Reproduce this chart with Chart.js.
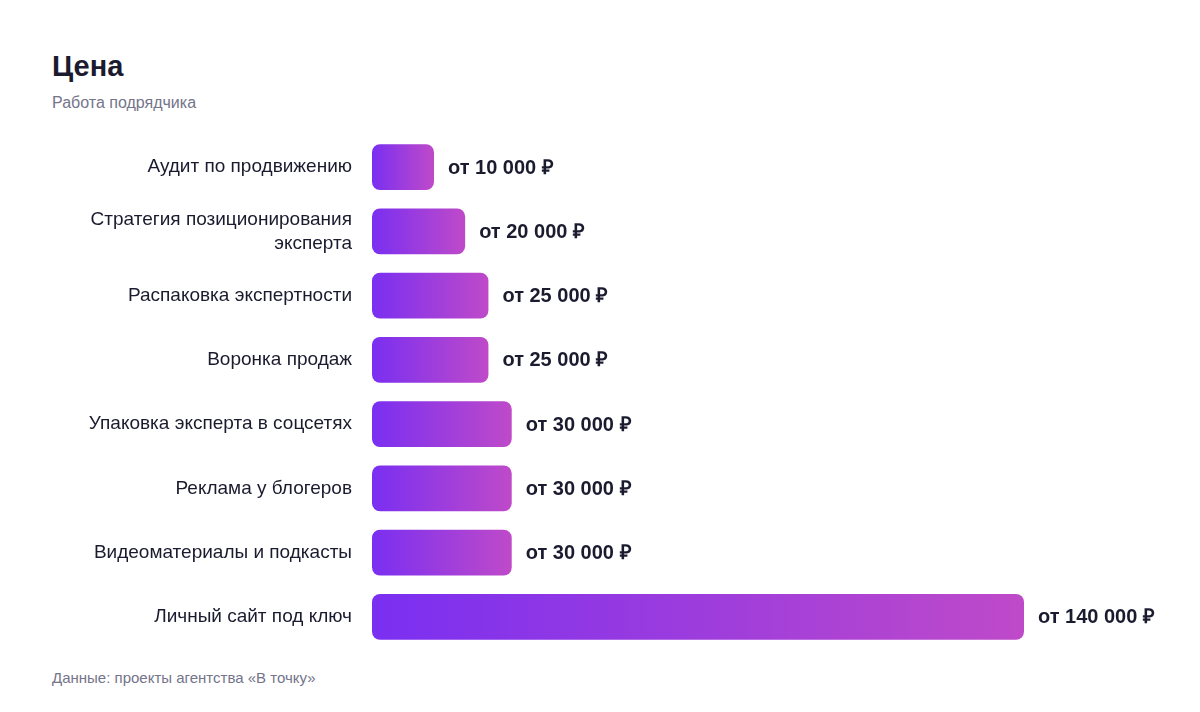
<!DOCTYPE html>
<html lang="ru">
<head>
<meta charset="utf-8">
<script src="https://cdn.jsdelivr.net/npm/chart.js@4"></script>
<style>
  body { margin: 0; background: #fff; font-family: "Liberation Sans", Arial, sans-serif; }
  #page { position: relative; width: 1200px; height: 712px; }
  .title { position: absolute; left: 52px; top: 52px; font-size: 29px; line-height: 29px; font-weight: bold; color: #1b1b2f; }
  .subtitle { position: absolute; left: 52px; top: 95px; font-size: 16px; line-height: 16px; color: #74748a; }
  .source { position: absolute; left: 52px; top: 670px; font-size: 15px; line-height: 15px; color: #74748a; }
  #wrap { position: absolute; left: 0; top: 135px; width: 1200px; height: 514px; }
</style>
</head>
<body>
<div id="page">
  <div class="title">Цена</div>
  <div class="subtitle">Работа подрядчика</div>
  <div id="wrap"><canvas id="chart"></canvas></div>
  <div class="source">Данные: проекты агентства «В точку»</div>
</div>
<script>
const categories = [
  'Аудит по продвижению',
  ['Стратегия позиционирования', 'эксперта'],
  'Распаковка экспертности',
  'Воронка продаж',
  'Упаковка эксперта в соцсетях',
  'Реклама у блогеров',
  'Видеоматериалы и подкасты',
  'Личный сайт под ключ'
];
const prices = [10000, 20000, 25000, 25000, 30000, 30000, 30000, 140000];

const MIN_BAR = 62;

function fmt(v) {
  return 'от ' + String(v).replace(/\B(?=(\d{3})+(?!\d))/g, ' ') + ' ₽';
}

// gradient per bar, from its base to its end
function barGradient(ctx) {
  const chart = ctx.chart;
  const x = chart.scales.x;
  if (!chart.chartArea || !x || ctx.raw == null) return '#7b2ff2';
  const x0 = x.getPixelForValue(0);
  const x1 = Math.max(x.getPixelForValue(ctx.raw), x0 + MIN_BAR);
  const g = chart.ctx.createLinearGradient(x0, 0, x1, 0);
  g.addColorStop(0, '#7a2ff1');
  g.addColorStop(1, '#bf4ac9');
  return g;
}

const valueLabels = {
  id: 'valueLabels',
  afterDatasetsDraw(chart) {
    const c = chart.ctx;
    const meta = chart.getDatasetMeta(0);
    c.save();
    c.font = 'bold 20px "Liberation Sans", Arial, sans-serif';
    c.fillStyle = '#1b1b2f';
    c.textAlign = 'left';
    c.textBaseline = 'middle';
    meta.data.forEach((bar, i) => {
      c.fillText(fmt(prices[i]), bar.x + 14, bar.y + 1);
    });
    c.restore();
  }
};

new Chart(document.getElementById('chart'), {
  type: 'bar',
  data: {
    labels: categories,
    datasets: [{
      data: prices,
      backgroundColor: barGradient,
      borderRadius: 8,
      borderSkipped: false,
      minBarLength: MIN_BAR,
      barPercentage: 0.715,
      categoryPercentage: 1
    }]
  },
  options: {
    indexAxis: 'y',
    responsive: true,
    maintainAspectRatio: false,
    animation: false,
    layout: { padding: { left: 0, right: 176, top: 0, bottom: 0 } },
    plugins: {
      legend: { display: false },
      tooltip: { enabled: false }
    },
    scales: {
      x: {
        display: false,
        min: 0,
        max: 140000
      },
      y: {
        border: { display: false },
        grid: { display: false, drawTicks: false },
        afterFit(scale) {
          scale.width = 372;
          scale.paddingTop = 0;
          scale.paddingBottom = 0;
        },
        ticks: {
          padding: 20,
          color: '#1b1b2f',
          font: { family: '"Liberation Sans", Arial, sans-serif', size: 19, lineHeight: 1.27 }
        }
      }
    }
  },
  plugins: [valueLabels]
});
</script>
</body>
</html>
